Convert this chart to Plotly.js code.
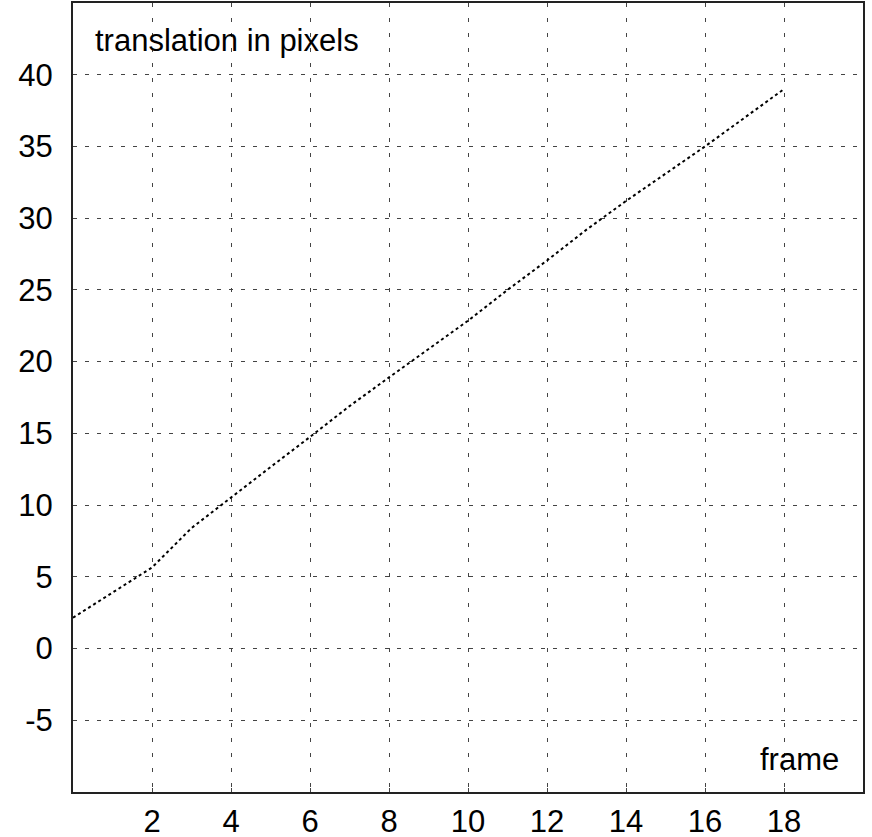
<!DOCTYPE html>
<html>
<head>
<meta charset="utf-8">
<script src="https://cdn.plot.ly/plotly-3.0.1.min.js"></script>
<style>html,body{margin:0;padding:0;background:#fff;}#chart{width:872px;height:837px;}</style>
</head>
<body>
<div id="chart"></div>
<script>
const frames = [0,1,2,3,4,5,6,7,8,9,10,11,12,13,14,15,16,17,18];
const translation = [2.15,3.9,5.65,8.4,10.55,12.65,14.75,16.9,18.9,20.9,22.85,25.0,27.05,29.2,31.2,33.1,35.0,37.0,39.0];
const xTicks = [2,4,6,8,10,12,14,16,18];
const yTicks = [-5,0,5,10,15,20,25,30,35,40];
const yLabel = "translation in pixels";
const xLabel = "frame";

const font = {family: "Liberation Sans, Arial, sans-serif", size: 31, color: "#000"};

const trace = {
  x: frames, y: translation, type: "scatter", mode: "lines",
  line: {color: "#000", width: 2, dash: "3px,3px"},
  hoverinfo: "skip", showlegend: false
};

const layout = {
  width: 872, height: 837,
  margin: {l: 73, r: 9, t: 3, b: 45, pad: 0},
  paper_bgcolor: "#fff", plot_bgcolor: "#fff",
  font: font,
  xaxis: {
    range: [0, 20], tickvals: xTicks, ticktext: xTicks.map(String),
    showgrid: true, gridcolor: "#444", gridwidth: 1, griddash: "4px,11px",
    zeroline: false, showline: true, linecolor: "#222", linewidth: 2, mirror: true,
    ticks: "inside", ticklen: 4, tickcolor: "#444", tickwidth: 1,
    tickfont: font, ticklabelstandoff: 1
  },
  yaxis: {
    range: [-10, 45], tickvals: yTicks, ticktext: yTicks.map(String),
    showgrid: true, gridcolor: "#444", gridwidth: 1, griddash: "4px,8px",
    zeroline: false, showline: true, linecolor: "#222", linewidth: 2, mirror: true,
    ticks: "inside", ticklen: 4, tickcolor: "#444", tickwidth: 1,
    tickfont: font, ticklabelstandoff: 12
  },
  annotations: [
    {text: yLabel, xref: "x", yref: "y", x: 0.5, y: 42.4, xanchor: "left", yanchor: "middle",
     showarrow: false, font: font},
    {text: xLabel, xref: "x", yref: "y", x: 19.45, y: -7.7, xanchor: "right", yanchor: "middle",
     showarrow: false, font: font}
  ]
};

Plotly.newPlot("chart", [trace], layout, {displayModeBar: false, staticPlot: true});
</script>
</body>
</html>
